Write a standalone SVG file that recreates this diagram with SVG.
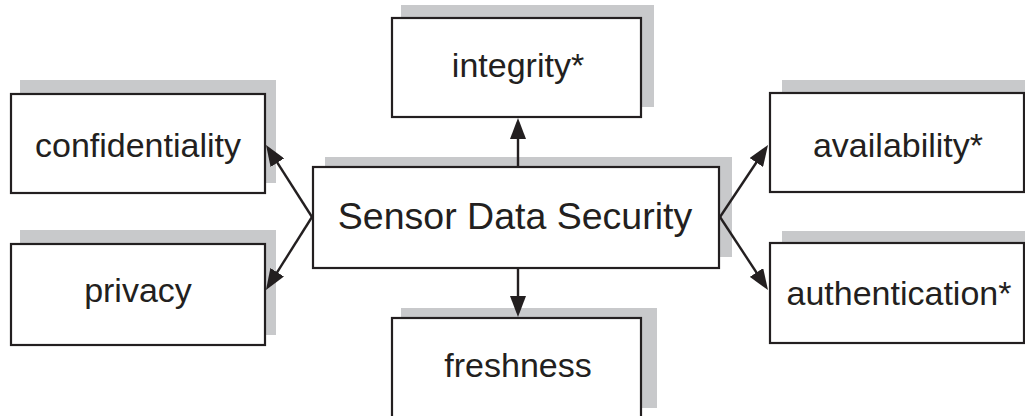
<svg xmlns="http://www.w3.org/2000/svg" width="1025" height="416" viewBox="0 0 1025 416">
<style>
.sh{fill:#c8c9cb;stroke:none}
.bx{fill:#ffffff;stroke:#231f20;stroke-width:2.2}
.lb{font-family:"Liberation Sans",Arial,sans-serif;font-size:34px;fill:#231f20;text-anchor:middle}
.big{font-size:37.5px}
.cn{stroke:#231f20;stroke-width:2.4;fill:none;marker-end:url(#ah)}
</style>
<defs>
<marker id="ah" markerWidth="21" markerHeight="16" refX="17" refY="8" orient="auto" markerUnits="userSpaceOnUse">
<path d="M0,0 L21,8 L0,16 Z" fill="#231f20"/>
</marker>
</defs>
<rect width="1025" height="416" fill="#ffffff"/>
<g id="node-integrity">
<rect class="sh" x="401" y="5" width="253" height="102"/>
<rect class="bx" x="392" y="18" width="249" height="99"/>
<text class="lb" x="518" y="77">integrity*</text>
</g>
<g id="node-confidentiality">
<rect class="sh" x="20" y="80" width="256" height="103"/>
<rect class="bx" x="11" y="94" width="254" height="99"/>
<text class="lb" x="138" y="157">confidentiality</text>
</g>
<g id="node-privacy">
<rect class="sh" x="20" y="230" width="256" height="105"/>
<rect class="bx" x="11" y="244" width="254" height="101"/>
<text class="lb" x="138" y="302">privacy</text>
</g>
<g id="node-center">
<rect class="sh" x="325" y="157" width="407" height="100"/>
<rect class="bx" x="313" y="167" width="406" height="101"/>
<text class="lb big" x="515" y="229">Sensor Data Security</text>
</g>
<g id="node-freshness">
<rect class="sh" x="401" y="308" width="256" height="100"/>
<rect class="bx" x="392" y="318" width="249" height="110"/>
<text class="lb" x="518" y="377">freshness</text>
</g>
<g id="node-availability">
<rect class="sh" x="782" y="80" width="260" height="102"/>
<rect class="bx" x="770" y="93" width="254" height="99"/>
<text class="lb" x="898" y="157">availability*</text>
</g>
<g id="node-authentication">
<rect class="sh" x="782" y="231" width="260" height="102"/>
<rect class="bx" x="770" y="243" width="254" height="100"/>
<text class="lb" x="899" y="305">authentication*</text>
</g>
<g id="connectors">
<line class="cn" x1="518" y1="167" x2="518" y2="122"/>
<line class="cn" x1="518" y1="268" x2="518" y2="313"/>
<line class="cn" x1="312" y1="217" x2="268.2" y2="148.4"/>
<line class="cn" x1="312" y1="217" x2="268.1" y2="286.6"/>
<line class="cn" x1="720" y1="217" x2="765.8" y2="148.3"/>
<line class="cn" x1="720" y1="217" x2="765.8" y2="286.7"/>
</g>
</svg>
